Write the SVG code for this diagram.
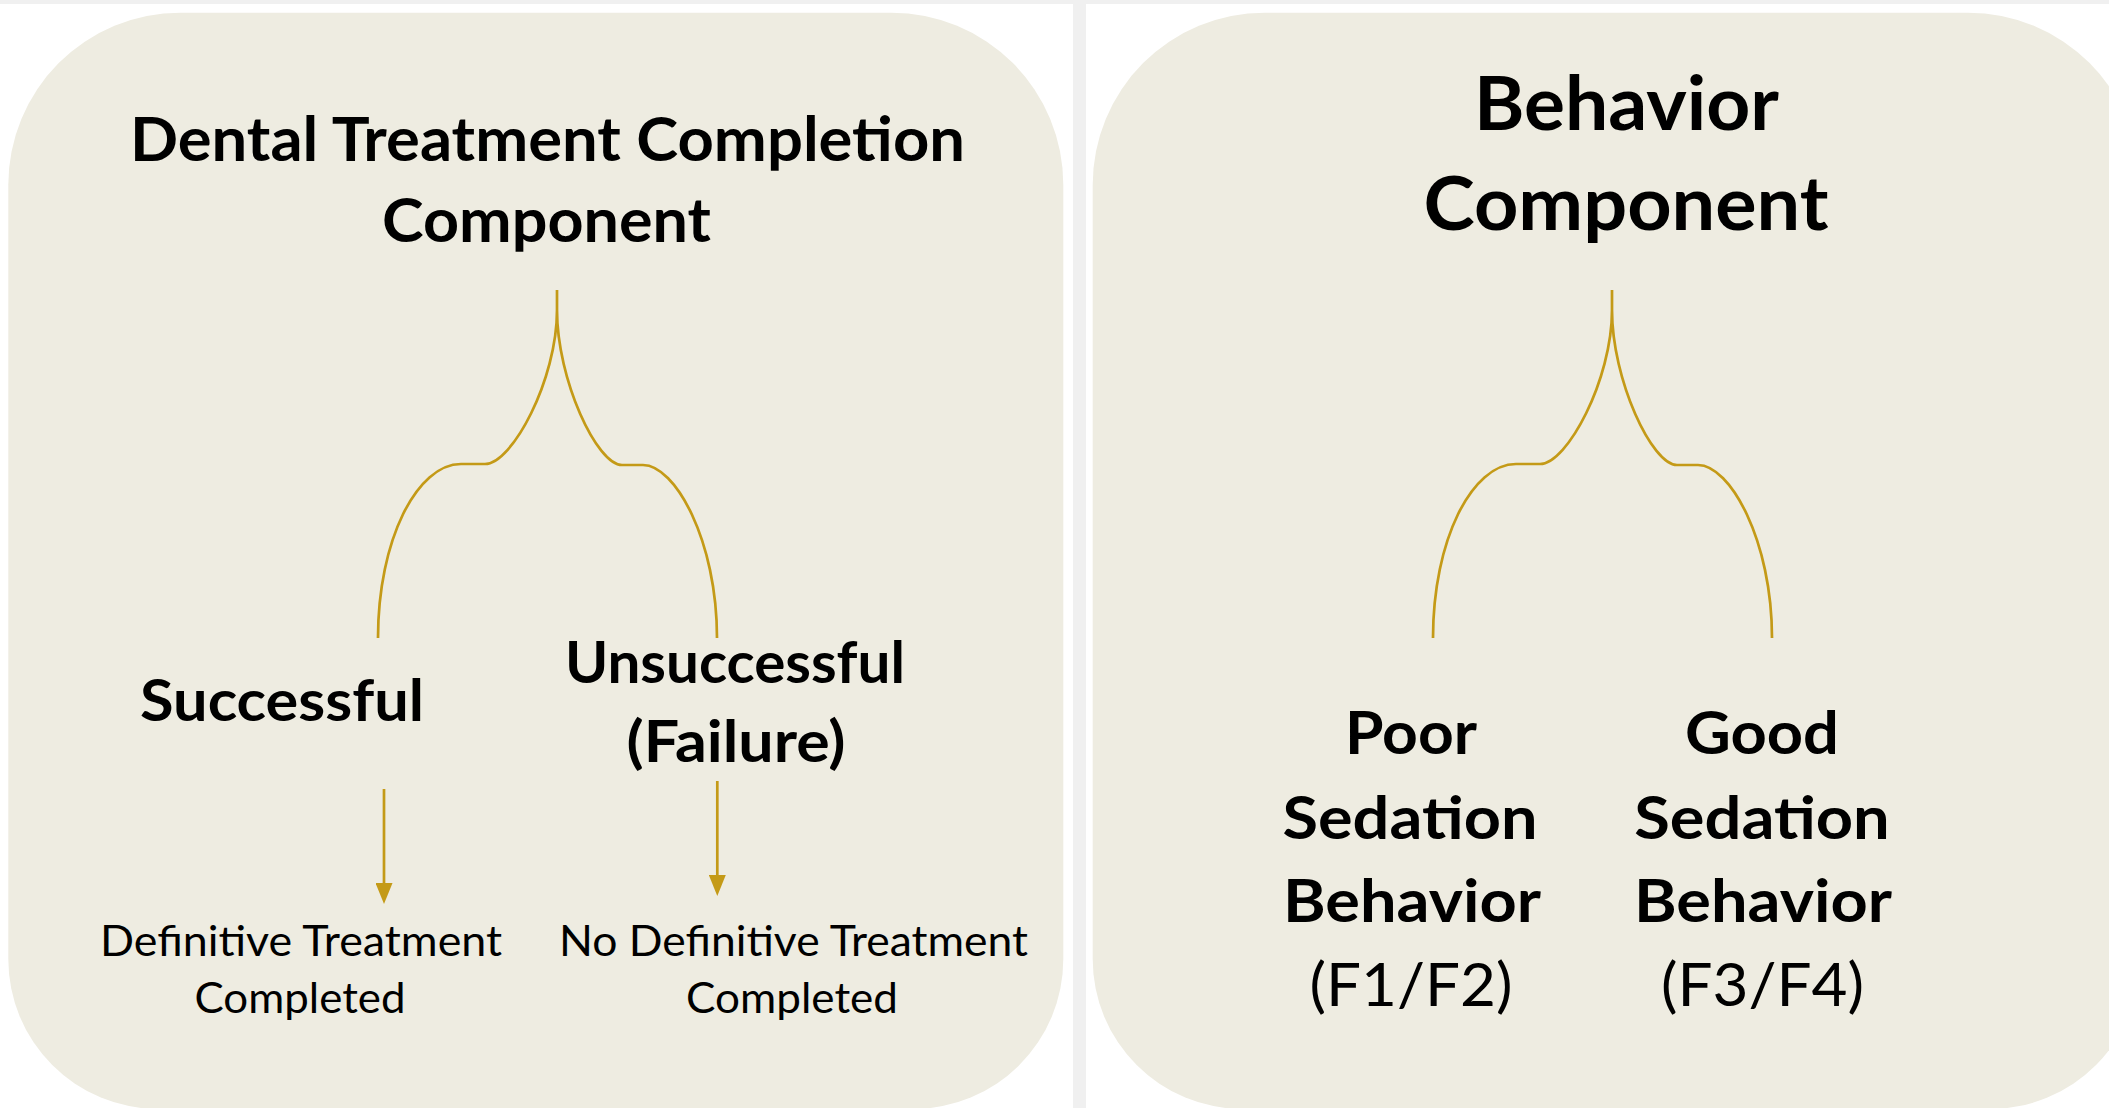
<svg xmlns="http://www.w3.org/2000/svg" width="2109" height="1108" viewBox="0 0 2109 1108">
  <style>
    .panel { fill: #EEECE1; }
    .strip { fill: #F0F0F0; }
    .t { font-family: Lato, "Open Sans", "Liberation Sans", sans-serif; fill: #000; text-anchor: middle; }
    .b { font-weight: 700; }
    .r { font-weight: 400; }
    .link { fill: none; stroke: #C49A17; stroke-width: 2.7; }
  </style>
  <defs>
    <marker id="head" viewBox="0 0 21 17" refX="0" refY="8.5" markerWidth="21" markerHeight="17" markerUnits="userSpaceOnUse" orient="auto">
      <path d="M0,0 L21,8.5 L0,17 Z" fill="#C49A17"/>
    </marker>
    <!-- split brace, origin at its top tip -->
    <path id="brace" class="link" d="M0,0 L0,20 C0,90 -45,174 -72,174 L-96,174 C-140,174 -179,250 -179,348 M0,0 L0,20 C0,90 40,175 65,175 L86,175 C118,175 160,250 160,348"/>
  </defs>

  <rect x="0" y="0" width="2109" height="1108" fill="#FFFFFF"/>
  <rect class="strip" x="0" y="0" width="2109" height="4"/>
  <rect class="strip" x="1073" y="0" width="13" height="1108"/>

  <!-- left panel: treatment completion -->
  <g id="panel-treatment">
    <path class="panel" d="M180.3,12.7 H891.3 A172,172 0 0 1 1063.3,184.7 V959 A150,150 0 0 1 913.3,1109 H158.3 A150,150 0 0 1 8.3,959 V184.7 A172,172 0 0 1 180.3,12.7 Z"/>
  </g>
  <g id="node-treatment-title">
    <text class="t b" x="547.5" y="161" font-size="61" textLength="835" lengthAdjust="spacingAndGlyphs">Dental Treatment Completion</text>
    <text class="t b" x="546.5" y="242" font-size="61" textLength="329" lengthAdjust="spacingAndGlyphs">Component</text>
  </g>
  <g id="node-successful">
    <text class="t b" x="282" y="721" font-size="57" textLength="284" lengthAdjust="spacingAndGlyphs">Successful</text>
  </g>
  <g id="node-unsuccessful">
    <text class="t b" x="735" y="683" font-size="57" textLength="340" lengthAdjust="spacingAndGlyphs">Unsuccessful</text>
    <text class="t b" x="736" y="762" font-size="57" textLength="219" lengthAdjust="spacingAndGlyphs">(Failure)</text>
  </g>
  <g id="node-definitive">
    <text class="t r" x="301" y="956" font-size="42.5" textLength="402" lengthAdjust="spacingAndGlyphs">Definitive Treatment</text>
    <text class="t r" x="300" y="1013" font-size="42.5" textLength="211" lengthAdjust="spacingAndGlyphs">Completed</text>
  </g>
  <g id="node-no-definitive">
    <text class="t r" x="793.5" y="956" font-size="42.5" textLength="469" lengthAdjust="spacingAndGlyphs">No Definitive Treatment</text>
    <text class="t r" x="792" y="1013" font-size="42.5" textLength="212" lengthAdjust="spacingAndGlyphs">Completed</text>
  </g>

  <!-- right panel: behavior -->
  <g id="panel-behavior">
    <path class="panel" d="M1264.7,12.7 H1968 A172,172 0 0 1 2140,184.7 V959 A150,150 0 0 1 1990,1109 H1242.7 A150,150 0 0 1 1092.7,959 V184.7 A172,172 0 0 1 1264.7,12.7 Z"/>
  </g>
  <g id="node-behavior-title">
    <text class="t b" x="1626.5" y="129.5" font-size="74" textLength="305" lengthAdjust="spacingAndGlyphs">Behavior</text>
    <text class="t b" x="1626" y="230" font-size="74" textLength="405" lengthAdjust="spacingAndGlyphs">Component</text>
  </g>
  <g id="node-poor">
    <text class="t b" x="1411" y="754" font-size="59.5" textLength="132" lengthAdjust="spacingAndGlyphs">Poor</text>
    <text class="t b" x="1410" y="839" font-size="59.5" textLength="255" lengthAdjust="spacingAndGlyphs">Sedation</text>
    <text class="t b" x="1412" y="922" font-size="59.5" textLength="258" lengthAdjust="spacingAndGlyphs">Behavior</text>
    <text class="t r" x="1411" y="1006" font-size="59.5" textLength="203" lengthAdjust="spacingAndGlyphs">(F1/F2)</text>
  </g>
  <g id="node-good">
    <text class="t b" x="1762" y="754" font-size="59.5" textLength="154" lengthAdjust="spacingAndGlyphs">Good</text>
    <text class="t b" x="1762" y="839" font-size="59.5" textLength="255.5" lengthAdjust="spacingAndGlyphs">Sedation</text>
    <text class="t b" x="1763" y="922" font-size="59.5" textLength="258" lengthAdjust="spacingAndGlyphs">Behavior</text>
    <text class="t r" x="1762.5" y="1006" font-size="59.5" textLength="203" lengthAdjust="spacingAndGlyphs">(F3/F4)</text>
  </g>

  <!-- connectors -->
  <g id="connectors">
    <use href="#brace" x="557" y="290"/>
    <use href="#brace" x="1612" y="290"/>
    <line class="link" x1="384" y1="789" x2="384" y2="883" marker-end="url(#head)"/>
    <line class="link" x1="717.3" y1="781" x2="717.3" y2="875" marker-end="url(#head)"/>
  </g>
</svg>
